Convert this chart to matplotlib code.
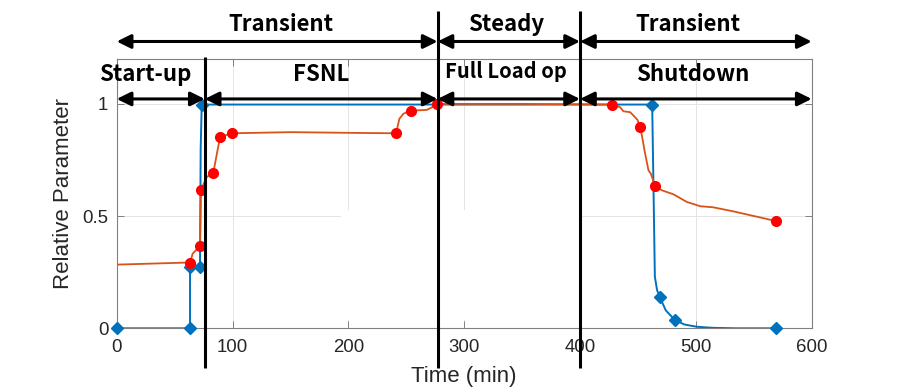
import matplotlib
matplotlib.use('Agg')
import matplotlib.pyplot as plt
from matplotlib.patches import Rectangle

# curva azul (diamantes)
blue_t = [0, 63.3, 63.3, 71.9, 72.5, 73.4, 462.3, 463.5, 464.6, 466.5, 469, 474, 481.9, 490, 500.6, 515, 535, 569]
blue_v = [0, 0, 0.274, 0.274, 0.8, 0.997, 0.997, 0.6, 0.23, 0.17, 0.138, 0.08, 0.037, 0.017, 0.007, 0.002, 0.0, 0.0]
blue_mk_t = [0, 63.3, 63.3, 71.9, 73.4, 462.3, 469, 481.9, 569]
blue_mk_v = [0, 0, 0.274, 0.274, 0.997, 0.997, 0.138, 0.037, 0]

# curva laranja (circulos vermelhos)
orange_t = [1.4, 61.8, 63.3, 65.6, 71.9, 72.8, 77.7, 83.4, 89.2, 99.3, 150, 200, 241.2, 244, 247.5,
            253.9, 267.7, 273.4, 276.3, 350, 428, 434.6, 437.5, 443.3, 447.6, 449.6, 451.9, 453.4,
            456.2, 459.1, 461.1, 464.9, 470.6, 480.7, 492.2, 503.7, 515.2, 532.4, 569.1]
orange_v = [0.284, 0.293, 0.293, 0.333, 0.366, 0.618, 0.674, 0.693, 0.852, 0.869, 0.874, 0.871, 0.869,
            0.933, 0.956, 0.970, 0.973, 0.988, 1.0, 1.0, 0.997, 0.985, 0.967, 0.963, 0.94, 0.929,
            0.896, 0.859, 0.778, 0.704, 0.689, 0.634, 0.615, 0.597, 0.563, 0.544, 0.539, 0.521, 0.478]
red_mk_t = [63.3, 71.9, 72.8, 83.4, 89.2, 99.3, 241.2, 253.9, 276.3, 428, 451.9, 464.9, 569.1]
red_mk_v = [0.293, 0.366, 0.618, 0.693, 0.852, 0.869, 0.869, 0.970, 1.0, 0.997, 0.896, 0.634, 0.478]

# fases
limites = [76, 277, 400]
top_edges = [0, 277, 400, 600]
top_labels = ['Transient', 'Steady', 'Transient']
sub_edges = [0, 76, 277, 400, 600]
sub_labels = ['Start-up', 'FSNL', 'Full Load op', 'Shutdown']

top_x = [141.6, 336.4, 493]
sub_x = [24.4, 176.8, 336, 497]

cinza = '#262626'
fig = plt.figure(figsize=(8.97, 3.92), dpi=100)
ax = fig.add_axes([0.1301, 0.1625, 0.7748, 0.6870])

ax.set_axisbelow(True)
ax.grid(True, color='#e4e4e4', lw=0.7)
# area branca que esconde parte da grade
ax.add_patch(Rectangle((193.7, 0.035), 206, 0.491, facecolor='white', edgecolor='none', zorder=1))

ax.plot(blue_t, blue_v, color='#0072BD', lw=1.4, zorder=3)
ax.plot(blue_mk_t, blue_mk_v, ls='none', marker='D', ms=6.5, color='#0072BD', zorder=4, clip_on=False)
ax.plot(orange_t, orange_v, color='#D95319', lw=1.3, zorder=3)
ax.plot(red_mk_t, red_mk_v, ls='none', marker='o', ms=7, color='red', zorder=4, clip_on=False)

ax.set_xlim(0, 600)
ax.set_ylim(0, 1.2)
ax.set_xticks([0, 100, 200, 300, 400, 500, 600])
ax.set_yticks([0, 0.5, 1])
ax.set_yticklabels(['0', '0.5', '1'])
ax.tick_params(direction='in', length=5, width=0.7, color='#808080', labelcolor=cinza,
               labelsize=13.4, top=True, right=True)
ax.tick_params(axis='x', pad=8)
ax.tick_params(axis='y', pad=6)
for sp in ax.spines.values():
    sp.set_color('#808080')
    sp.set_linewidth(0.8)
for lab in ax.get_xticklabels() + ax.get_yticklabels():
    lab.set_family('Liberation Sans')

ax.set_xlabel('Time (min)', fontsize=16, color=cinza, family='Liberation Sans', labelpad=7)
ax.set_ylabel('Relative Parameter', fontsize=16, color=cinza, family='Liberation Sans', labelpad=6)

# linhas verticais das fases (a primeira so comeca no topo do eixo)
topo = [1.21, 1.415, 1.415]
for xv, yt in zip(limites, topo):
    ax.vlines(xv, -0.176, yt, colors='k', lw=2.2, zorder=6, clip_on=False)

seta = dict(arrowstyle='<|-|>,head_length=0.85,head_width=0.42', color='k', lw=2.2,
            shrinkA=0, shrinkB=0, mutation_scale=10)
for i in range(len(top_labels)):
    ax.annotate('', xy=(top_edges[i + 1], 1.278), xytext=(top_edges[i], 1.278),
                arrowprops=seta, annotation_clip=False, zorder=7)
    ax.text(top_x[i], 1.325, top_labels[i], ha='center', va='baseline', fontsize=16,
            fontweight='bold', family='Noto Sans CJK KR', clip_on=False)
for i in range(len(sub_labels)):
    ax.annotate('', xy=(sub_edges[i + 1], 1.022), xytext=(sub_edges[i], 1.022),
                arrowprops=seta, annotation_clip=False, zorder=7)
    tam = 14.5 if sub_labels[i] == 'Full Load op' else 16
    yb = 1.116 if sub_labels[i] == 'Full Load op' else 1.104
    ax.text(sub_x[i], yb, sub_labels[i], ha='center', va='baseline', fontsize=tam,
            fontweight='bold', family='Noto Sans CJK KR', clip_on=False)

fig.savefig('out.png', dpi=100)
